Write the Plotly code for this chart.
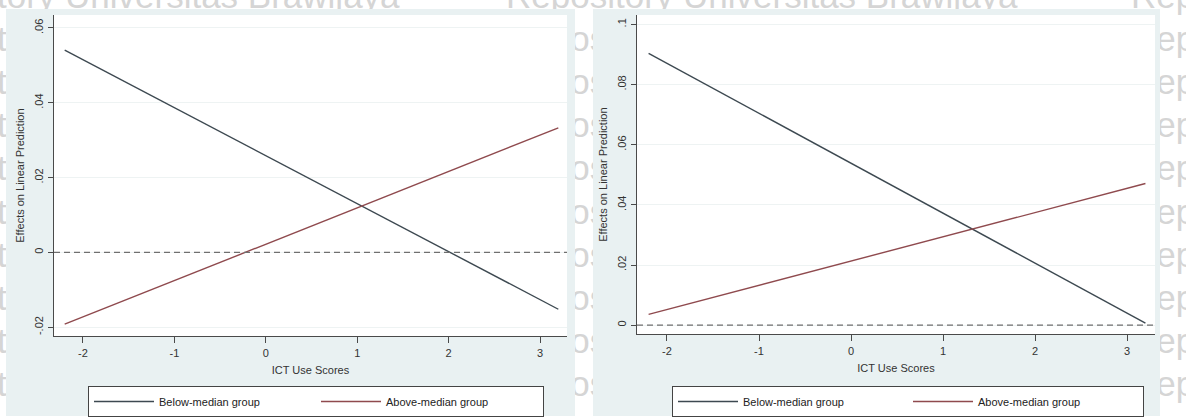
import plotly.graph_objects as go

W, H = 1186, 417
FONT = "Liberation Sans, Arial, sans-serif"

# ---- data ----
ict_x = [-2.2, 3.2]
left_below = [0.0541, -0.0152]
left_above = [-0.0192, 0.0333]
right_below = [0.0904, 0.0007]
right_above = [0.0036, 0.0471]

x_ticks = [-2, -1, 0, 1, 2, 3]
x_tick_text = ["-2", "-1", "0", "1", "2", "3"]
left_y_ticks = [-0.02, 0, 0.02, 0.04, 0.06]
left_y_text = ["-.02", "0", ".02", ".04", ".06"]
right_y_ticks = [0, 0.02, 0.04, 0.06, 0.08, 0.1]
right_y_text = ["0", ".02", ".04", ".06", ".08", ".1"]

series_names = ["Below-median group", "Above-median group"]
series_colors = ["#3d4951", "#8f4a4e"]
x_title = "ICT Use Scores"
y_title = "Effects on Linear Prediction"
watermark = "Repository Universitas Brawijaya"


def px(x):
    return x / W


def py(y):
    return 1 - y / H


fig = go.Figure()

panels = [
    ("x", "y", "legend", left_below, left_above),
    ("x2", "y2", "legend2", right_below, right_above),
]
for xa, ya, lg, below, above in panels:
    for name, col, vals in zip(series_names, series_colors, [below, above]):
        fig.add_trace(go.Scatter(
            x=ict_x, y=vals, mode="lines", name=name,
            line=dict(color=col, width=1.4),
            xaxis=xa, yaxis=ya, legend=lg, hoverinfo="skip"))

shapes = []
# watermark rows (drawn first, beneath everything)
for k in range(10):
    yc = -8 + 43.3 * k
    for xs in (-112, 506, 1131):
        shapes.append(dict(
            type="line", xref="paper", yref="paper",
            x0=px(xs), x1=px(xs + 560), y0=py(yc), y1=py(yc),
            line=dict(width=0, color="rgba(0,0,0,0)"), layer="below",
            label=dict(text=watermark, textposition="start", xanchor="left",
                       yanchor="middle", padding=0,
                       font=dict(size=35, color="#d5d5d5", family=FONT))))

# graph regions (Stata-like light blue) and white plot regions
for (x0, x1, y0, y1) in [(6, 575, 9, 417), (593, 1160, 9, 417)]:
    shapes.append(dict(type="rect", xref="paper", yref="paper",
                       x0=px(x0), x1=px(x1), y0=py(y1), y1=py(y0),
                       fillcolor="#e9f1f2", line=dict(width=0), layer="below"))
for (x0, x1, y0, y1) in [(54, 567, 15, 337), (637, 1155, 15, 335)]:
    shapes.append(dict(type="rect", xref="paper", yref="paper",
                       x0=px(x0), x1=px(x1), y0=py(y1), y1=py(y0),
                       fillcolor="white", line=dict(width=0), layer="below"))

# dashed reference lines at zero
for xr, yr in [("x domain", "y"), ("x2 domain", "y2")]:
    shapes.append(dict(type="line", xref=xr, yref=yr, x0=0, x1=1, y0=0, y1=0,
                       line=dict(color="#6f6f6f", width=1.3, dash="6px,4px"),
                       layer="above"))

axis_common = dict(
    showline=True, linecolor="#4a4a4a", linewidth=1.4, ticks="outside",
    tickcolor="#4a4a4a", tickwidth=1, zeroline=False,
    tickfont=dict(size=11, color="#333", family=FONT), mirror=False,
)
title_font = dict(size=11, color="#333", family=FONT)

legend_common = dict(
    orientation="h", xanchor="left", yanchor="top", bgcolor="white",
    bordercolor="#444", borderwidth=1,
    font=dict(size=11, color="#222", family=FONT),
    itemwidth=60, traceorder="normal",
)

fig.update_layout(
    width=W, height=H, autosize=False,
    margin=dict(l=0, r=0, t=0, b=0, pad=0),
    paper_bgcolor="white", plot_bgcolor="white",
    font=dict(family=FONT, size=11, color="#333"),
    shapes=shapes,
    xaxis=dict(axis_common, domain=[px(54), px(567)], range=[-2.317, 3.295],
               anchor="y", tickvals=x_ticks, ticktext=x_tick_text, ticklen=6,
               showgrid=False,
               title=dict(text=x_title, standoff=8, font=title_font)),
    yaxis=dict(axis_common, domain=[py(337), py(15)], range=[-0.0224, 0.06347],
               anchor="x", tickvals=left_y_ticks, ticktext=left_y_text,
               tickangle=-90, ticklen=5, showgrid=True, gridcolor="#eef3f3",
               title=dict(text=y_title, standoff=6, font=title_font)),
    xaxis2=dict(axis_common, domain=[px(637), px(1155)], range=[-2.326, 3.304],
                anchor="y2", tickvals=x_ticks, ticktext=x_tick_text, ticklen=6,
                showgrid=False,
                title=dict(text=x_title, standoff=8, font=title_font)),
    yaxis2=dict(axis_common, domain=[py(335), py(15)], range=[-0.003, 0.10315],
                anchor="x2", tickvals=right_y_ticks, ticktext=right_y_text,
                tickangle=-90, ticklen=5, showgrid=True, gridcolor="#eef3f3",
                title=dict(text=y_title, standoff=6, font=title_font)),
    legend=dict(legend_common, x=px(88), y=py(387), entrywidth=152),
    legend2=dict(legend_common, x=px(672), y=py(386), entrywidth=160),
)

fig.write_html("out.html")
